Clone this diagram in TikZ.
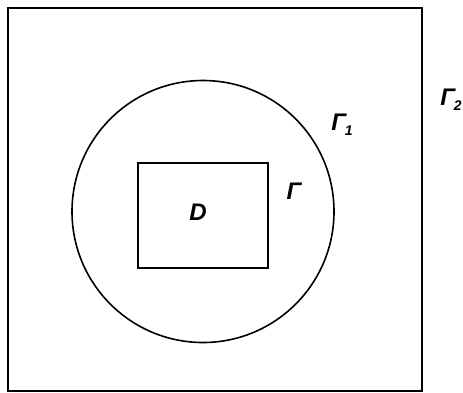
\documentclass[tikz,border=0pt]{standalone}
\usepackage{fontspec}
\setmainfont{Liberation Sans}
\usepackage{tikz}
\newcommand{\gsub}[1]{\kern-1pt\raisebox{-5pt}{\fontsize{14}{14}\selectfont #1}}
\begin{document}
\begin{tikzpicture}[x=1pt,y=-1pt,line width=1.6pt,
  lbl/.style={font=\fontsize{24}{24}\selectfont\bfseries\itshape,inner sep=0pt}]
\useasboundingbox (0,0) rectangle (463,392);
\draw (8,8) rectangle (422,391);
\draw (203,211.5) circle (131);
\draw (138,163) rectangle (268,268);
\node[lbl] (D) at (198,212) {D};
\node[lbl] (G) at (294,191) {Γ};
\node[lbl] (G1) at (342,125) {Γ\gsub{1}};
\node[lbl] (G2) at (451,100) {Γ\gsub{2}};
\end{tikzpicture}
\end{document}
